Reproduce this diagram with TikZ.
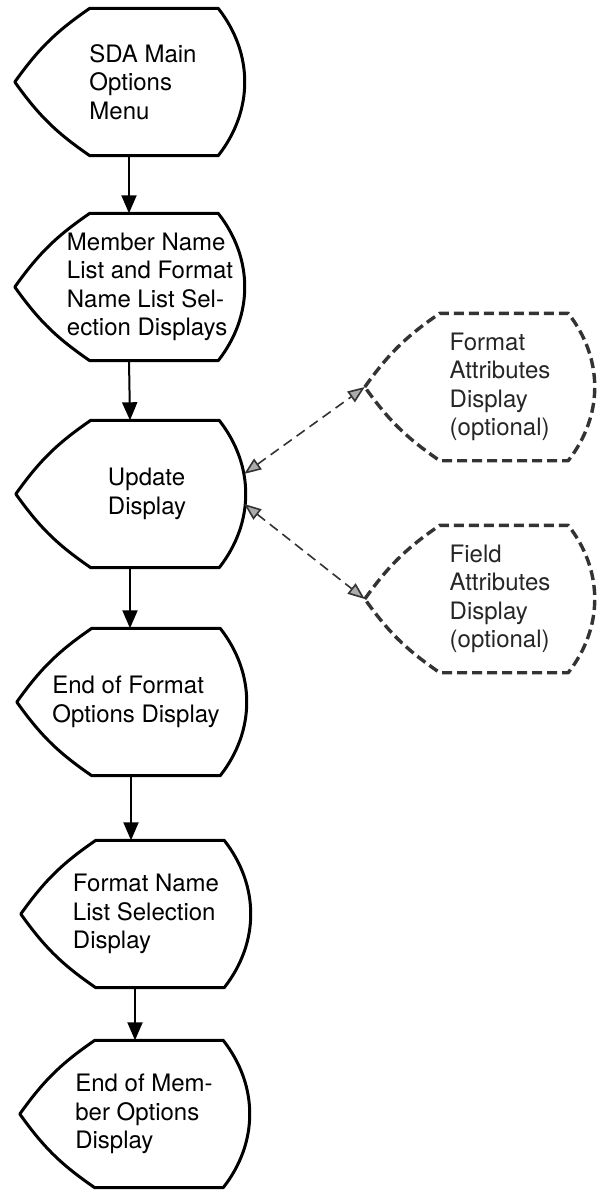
\documentclass[tikz,border=0pt]{standalone}
\usepackage{fontspec}
\setmainfont{TeX Gyre Heros}
\usetikzlibrary{arrows.meta}

% outline of a display symbol drawn round a named node
\newcommand{\displine}[2][]{%
  \draw[line width=3pt, line join=round, #1] (#2.west) to[bend left=10] ([xshift=75pt]#2.north west)
    -- ([xshift=-25pt]#2.north east) to[bend left=38] ([xshift=-25pt]#2.south east)
    -- ([xshift=75pt]#2.south west) to[bend left=10] cycle;}

\begin{document}
\begin{tikzpicture}[x=1pt, y=1pt, >={Triangle[length=18pt,width=15pt]}]
\tikzstyle{disp}=[minimum width=228pt, minimum height=147pt, inner sep=0pt]
\tikzstyle{txt}=[align=left, font=\fontsize{24}{28.5}\selectfont, inner sep=0pt]
\tikzstyle{flow}=[->, line width=2pt]
\tikzstyle{opt}=[line width=1.6pt, dash pattern=on 10pt off 6pt, black!80,
  arrows={Triangle[length=17pt,width=13pt,fill=gray!65]-Triangle[length=17pt,width=13pt,fill=gray!65]}]
\useasboundingbox (0,0) rectangle (601,-1190);

% main column
\node[disp, label={[txt,xshift=14pt]center:{SDA Main\\Options\\Menu}}] (sda) at (129,-82) {};
\node[disp, label={[txt,xshift=21pt]center:{Member Name\\List and Format\\Name List Sel-\\ection Displays}}] (mem) at (129,-287) {};
\node[disp, label={[txt,xshift=17pt]center:{Update\\Display}}] (upd) at (130,-494) {};
\node[disp, label={[txt,xshift=5pt]center:{End of Format\\Options Display}}] (eof) at (131,-702) {};
\node[disp, label={[txt,xshift=11pt]center:{Format Name\\List Selection\\Display}}] (fnl) at (135,-914) {};
\node[disp, label={[txt,xshift=10pt]center:{End of Mem-\\ber Options\\Display}}] (eom) at (134,-1114) {};

% optional displays
\node[disp, label={[txt,black!85,xshift=21pt]center:{Format\\Attributes\\Display\\(optional)}}] (fmt) at (479,-387) {};
\node[disp, label={[txt,black!85,xshift=21pt]center:{Field\\Attributes\\Display\\(optional)}}] (fld) at (479,-599) {};

\foreach \n in {sda,mem,upd,eof,fnl,eom} {\displine{\n}}
\foreach \n in {fmt,fld} {\displine[line width=3.4pt, black!80, dash pattern=on 10pt off 5pt]{\n}}

\draw[flow] (sda.south) -- (mem.north);
\draw[flow] (mem.south) -- (upd.north);
\draw[flow] (upd.south) -- (upd.south |- eof.north);
\draw[flow] (eof.south) -- (eof.south |- fnl.north);
\draw[flow] (fnl.south) -- (fnl.south |- eom.north);
\draw[opt] (upd.10) -- (fmt.west);
\draw[opt] (upd.-5) -- (fld.west);
\end{tikzpicture}
\end{document}
